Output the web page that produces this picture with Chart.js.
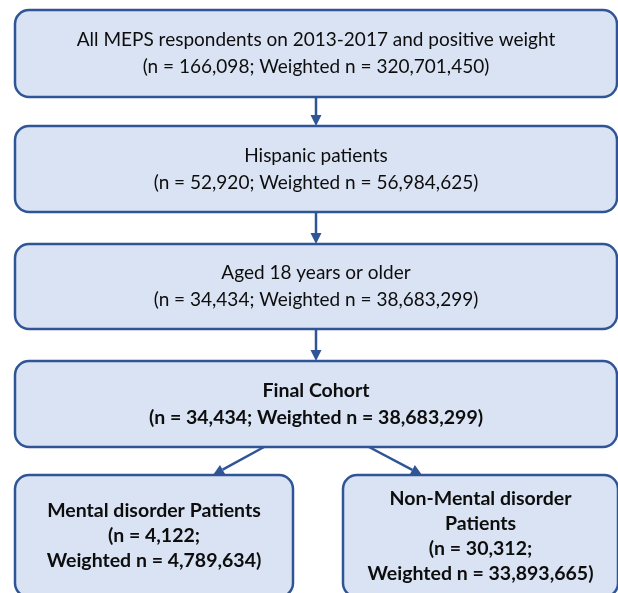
<!DOCTYPE html>
<html>
<head>
<meta charset="utf-8">
<script src="https://cdn.jsdelivr.net/npm/chart.js@4"></script>
<style>
  body { margin: 0; background: #fff; }
  #wrap { width: 618px; height: 593px; }
</style>
</head>
<body>
<div id="wrap"><canvas id="flowChart"></canvas></div>
<script>
// Cohort data
var stepTitles = [
    'All MEPS respondents on 2013-2017 and positive weight',
    'Hispanic patients',
    'Aged 18 years or older',
    'Final Cohort',
    'Mental disorder Patients',
    'Non-Mental disorder Patients'
];
var sampleN = [166098, 52920, 34434, 34434, 4122, 30312];
var weightedN = [320701450, 56984625, 38683299, 38683299, 4789634, 33893665];

// Layout (axis units = pixels of the 618x593 frame)
var boxX0 = [15, 15, 15, 15, 15, 343];
var boxX1 = [617, 617, 617, 617, 293, 618];
var boxY0 = [10, 126, 244, 361, 475, 475];
var boxY1 = [97, 212, 329, 447, 597, 597];
var boxBold = [false, false, false, true, true, true];
var boxSplit = [false, false, false, false, true, true];
var arrows = [
    [316, 97, 316, 126],
    [316, 212, 316, 244],
    [316, 329, 316, 361],
    [264, 447, 213, 475],
    [369, 447, 422, 475]
];

var fmt = function (v) { return v.toLocaleString('en-US'); };

function wrapWords(ctx, text, maxW) {
    var words = text.split(' '), lines = [], cur = '';
    words.forEach(function (w) {
        var t = cur ? cur + ' ' + w : w;
        if (cur && ctx.measureText(t).width > maxW) { lines.push(cur); cur = w; }
        else cur = t;
    });
    lines.push(cur);
    return lines;
}

var flowPlugin = {
    id: 'flow',
    afterDraw: function (chart) {
        var ctx = chart.ctx, sx = chart.scales.x, sy = chart.scales.y;
        ctx.save();
        // boxes
        stepTitles.forEach(function (title, i) {
            var x0 = sx.getPixelForValue(boxX0[i]), x1 = sx.getPixelForValue(boxX1[i]);
            var y0 = sy.getPixelForValue(boxY0[i]), y1 = sy.getPixelForValue(boxY1[i]);
            ctx.beginPath();
            ctx.roundRect(x0, y0, x1 - x0, y1 - y0, 14);
            ctx.fillStyle = '#dae3f3';
            ctx.fill();
            ctx.lineWidth = 2.5;
            ctx.strokeStyle = '#2f5597';
            ctx.stroke();

            ctx.font = boxBold[i] ? 'bold 19.5px Lato' : '19px Lato';
            var nText = '(n = ' + fmt(sampleN[i]) + ';';
            var wText = 'Weighted n = ' + fmt(weightedN[i]) + ')';
            var lines;
            if (boxSplit[i]) {
                lines = wrapWords(ctx, title, 240).concat([nText, wText]);
            } else {
                lines = [title, nText + ' ' + wText];
            }
            var lh = boxSplit[i] ? 25 : 27;
            var cx = (x0 + x1) / 2, cy = (y0 + y1) / 2;
            ctx.fillStyle = '#0d0d0d';
            ctx.textAlign = 'center';
            ctx.textBaseline = 'middle';
            lines.forEach(function (ln, k) {
                ctx.fillText(ln, cx, cy + (k - (lines.length - 1) / 2) * lh);
            });
        });
        // arrows
        arrows.forEach(function (a) {
            var xa = sx.getPixelForValue(a[0]), ya = sy.getPixelForValue(a[1]);
            var xb = sx.getPixelForValue(a[2]), yb = sy.getPixelForValue(a[3]);
            var ang = Math.atan2(yb - ya, xb - xa), hl = 11, hw = 5.5;
            var bx = xb - hl * Math.cos(ang), by = yb - hl * Math.sin(ang);
            ctx.strokeStyle = '#2f5597';
            ctx.fillStyle = '#2f5597';
            ctx.lineWidth = 2.5;
            ctx.beginPath();
            ctx.moveTo(xa, ya);
            ctx.lineTo(bx, by);
            ctx.stroke();
            ctx.beginPath();
            ctx.moveTo(xb, yb);
            ctx.lineTo(bx - hw * Math.sin(ang), by + hw * Math.cos(ang));
            ctx.lineTo(bx + hw * Math.sin(ang), by - hw * Math.cos(ang));
            ctx.closePath();
            ctx.fill();
        });
        ctx.restore();
    }
};

var ctx1 = document.getElementById('flowChart').getContext('2d');
var flowChart = new Chart(ctx1, {
    type: 'scatter',
    data: { datasets: [] },
    options: {
        responsive: true,
        maintainAspectRatio: false,
        animation: false,
        layout: { padding: 0 },
        scales: {
            x: { type: 'linear', min: 0, max: 618, display: false },
            y: { type: 'linear', min: 0, max: 593, reverse: true, display: false }
        },
        plugins: {
            legend: { display: false },
            tooltip: { enabled: false }
        }
    },
    plugins: [flowPlugin]
});
</script>
</body>
</html>
